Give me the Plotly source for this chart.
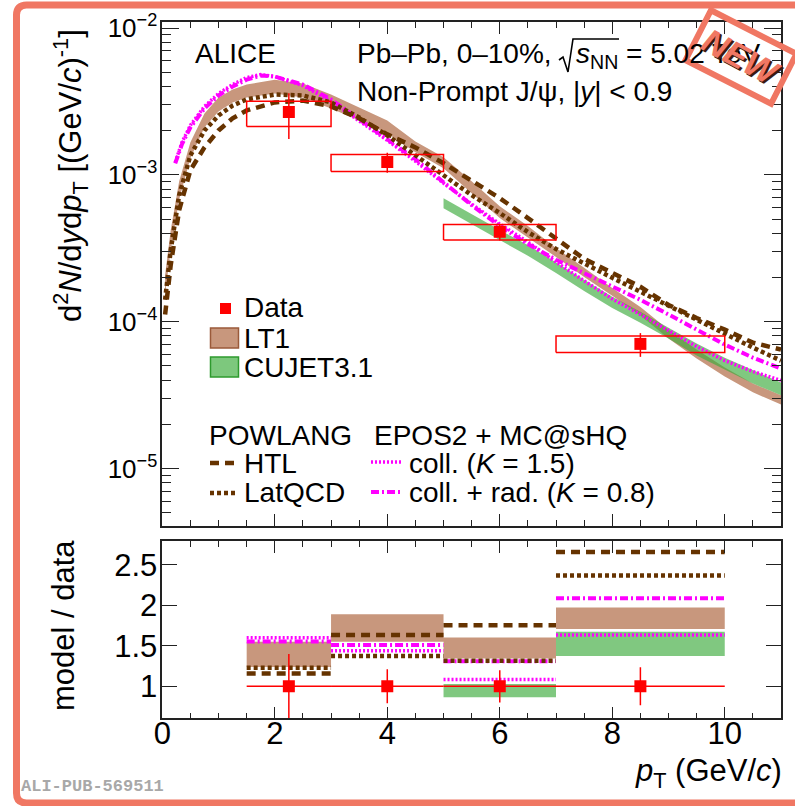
import math
import plotly.graph_objects as go

W, H = 795, 806


def px(x):
    return x / W


def py(y):
    return 1 - y / H


# ---------------- data: top panel ----------------
data_pt = [2.25, 4.0, 6.0, 8.5]
data_val = [2.68e-3, 1.225e-3, 4.1e-4, 7.06e-5]
data_stat = [0.92e-3, 0.19e-3, 0.52e-4, 1.3e-5]
bin_lo = [1.5, 3.0, 5.0, 7.0]
bin_hi = [3.0, 5.0, 7.0, 10.0]
sys_lo = [2.14e-3, 1.055e-3, 3.6e-4, 6.17e-5]
sys_hi = [3.18e-3, 1.38e-3, 4.6e-4, 8.0e-5]

pt_grid = [0.05, 0.15, 0.3, 0.5, 0.75, 1.0, 1.25, 1.5, 2.0, 2.5, 3.0, 3.5, 4.0, 4.5,
           5.0, 5.5, 6.0, 6.5, 7.0, 7.5, 8.0, 8.5, 9.0, 9.5, 10.0, 10.5, 11.0]
lt1_hi = [2.08e-4, 4.21e-4, 9.06e-4, 1.67e-3, 2.62e-3, 3.37e-3, 3.82e-3, 4.13e-3, 4.46e-3,
          4.19e-3, 3.53e-3, 2.88e-3, 2.35e-3, 1.69e-3, 1.32e-3, 9.06e-4, 6.13e-4, 4.48e-4,
          3.18e-4, 2.33e-4, 1.70e-4, 1.26e-4, 8.83e-5, 6.46e-5, 4.87e-5, 3.79e-5, 3.15e-5]
lt1_lo = [1.53e-4, 3.08e-4, 6.84e-4, 1.30e-3, 2.11e-3, 2.71e-3, 3.12e-3, 3.37e-3, 3.59e-3,
          3.37e-3, 2.84e-3, 2.35e-3, 1.92e-3, 1.43e-3, 1.11e-3, 7.51e-4, 5.08e-4, 3.72e-4,
          2.76e-4, 2.02e-4, 1.50e-4, 1.10e-4, 7.67e-5, 5.61e-5, 4.23e-5, 3.30e-5, 2.73e-5]
htl = [1.12e-4, 2.44e-4, 5.76e-4, 1.08e-3, 1.54e-3, 2.01e-3, 2.43e-3, 2.75e-3, 3.12e-3,
       3.21e-3, 2.93e-3, 2.43e-3, 1.89e-3, 1.54e-3, 1.20e-3, 9.20e-4, 6.95e-4, 5.08e-4,
       3.72e-4, 2.68e-4, 2.15e-4, 1.73e-4, 1.30e-4, 1.06e-4, 8.83e-5, 7.20e-5, 6.46e-5]
latqcd = [1.41e-4, 3.08e-4, 7.28e-4, 1.36e-3, 2.01e-3, 2.54e-3, 2.97e-3, 3.27e-3, 3.53e-3,
          3.48e-3, 3.12e-3, 2.46e-3, 1.86e-3, 1.36e-3, 9.95e-4, 7.28e-4, 5.50e-4, 4.08e-4,
          3.13e-4, 2.48e-4, 1.99e-4, 1.60e-4, 1.28e-4, 1.03e-4, 8.29e-5, 6.66e-5, 5.43e-5]

epos_pt = [0.23, 0.35, 0.5, 0.75, 1.0, 1.25, 1.5, 1.75, 2.0, 2.5, 3.0, 3.5, 4.0, 4.5,
           5.0, 5.5, 6.0, 6.5, 7.0, 7.5, 8.0, 8.5, 9.0, 9.5, 10.0, 10.5, 11.0]
coll = [1.22e-3, 1.67e-3, 2.18e-3, 2.93e-3, 3.59e-3, 4.13e-3, 4.61e-3, 4.83e-3, 4.68e-3,
        4.06e-3, 3.17e-3, 2.35e-3, 1.72e-3, 1.24e-3, 8.78e-4, 6.33e-4, 4.63e-4, 3.49e-4,
        2.55e-4, 1.90e-4, 1.43e-4, 1.12e-4, 8.69e-5, 6.77e-5, 5.43e-5, 4.58e-5, 3.98e-5]
coll_rad = [1.20e-3, 1.62e-3, 2.11e-3, 2.84e-3, 3.48e-3, 4.00e-3, 4.46e-3, 4.75e-3, 4.68e-3,
            4.13e-3, 3.27e-3, 2.39e-3, 1.78e-3, 1.28e-3, 8.92e-4, 6.23e-4, 4.48e-4, 3.38e-4,
            2.64e-4, 2.15e-4, 1.73e-4, 1.41e-4, 1.12e-4, 8.83e-5, 6.98e-5, 5.69e-5, 4.80e-5]

cujet_pt = [5.0, 5.5, 6.0, 6.5, 7.0, 7.5, 8.0, 8.5, 9.0, 9.5, 10.0, 10.5, 11.0]
cujet_hi = [6.95e-4, 5.41e-4, 4.21e-4, 3.33e-4, 2.52e-4, 1.93e-4, 1.48e-4, 1.17e-4,
            9.11e-5, 7.09e-5, 5.69e-5, 4.65e-5, 3.85e-5]
cujet_lo = [5.94e-4, 4.63e-4, 3.60e-4, 2.81e-4, 2.15e-4, 1.62e-4, 1.24e-4, 9.84e-5,
            7.67e-5, 5.88e-5, 4.72e-5, 3.79e-5, 3.15e-5]

# ---------------- data: ratio panel ----------------
ratio_data = [1.0, 1.0, 1.0, 1.0]
ratio_err = [0.4, 0.21, 0.2, 0.235]
ratio_lt1_lo = [1.24, 1.55, 1.345, 1.71]
ratio_lt1_hi = [1.55, 1.89, 1.605, 1.975]
cujet_bin_lo = [5.0, 7.0]
cujet_bin_hi = [7.0, 10.0]
ratio_cujet_lo = [0.865, 1.375]
ratio_cujet_hi = [1.03, 1.675]
ratio_htl = [1.16, 1.635, 1.755, 2.66]
ratio_latqcd = [1.23, 1.375, 1.315, 2.37]
ratio_coll = [1.60, 1.44, 1.085, 1.635]
ratio_collrad = [1.555, 1.51, 1.31, 2.09]

x_ticks = [0, 2, 4, 6, 8, 10]
ratio_ticks = [1, 1.5, 2, 2.5]
ratio_ticktext = ["1", "1.5", "2", "2.5"]
log_ticks = [1e-5, 1e-4, 1e-3, 1e-2]
log_ticktext = ["10<sup>\u22125</sup>", "10<sup>\u22124</sup>", "10<sup>\u22123</sup>", "10<sup>\u22122</sup>"]

# ---------------- styles ----------------
BROWN = "#663300"
MAG = "#FF00FF"
LT1_FILL = "#C8977D"
CUJET_FILL = "rgba(60,170,60,0.65)"
RED = "#FF0000"
ORANGE = "#F07763"
HTL_DASH = "9px,6px"
LAT_DASH = "4px,3px"
COLL_DASH = "2px,2px"
CR_DASH = "8px,3px,2px,3px"

fig = go.Figure()

# ---- top panel ----
fig.add_trace(go.Scatter(x=pt_grid + pt_grid[::-1], y=lt1_hi + lt1_lo[::-1], fill="toself",
                         fillcolor=LT1_FILL, line=dict(width=0), mode="lines",
                         xaxis="x2", yaxis="y2", hoverinfo="skip"))
fig.add_trace(go.Scatter(x=cujet_pt + cujet_pt[::-1], y=cujet_hi + cujet_lo[::-1], fill="toself",
                         fillcolor=CUJET_FILL, line=dict(width=0), mode="lines",
                         xaxis="x2", yaxis="y2", hoverinfo="skip"))
fig.add_trace(go.Scatter(x=epos_pt, y=coll, mode="lines", line=dict(color=MAG, width=3.5, dash=COLL_DASH),
                         xaxis="x2", yaxis="y2"))
fig.add_trace(go.Scatter(x=epos_pt, y=coll_rad, mode="lines", line=dict(color=MAG, width=4, dash=CR_DASH),
                         xaxis="x2", yaxis="y2"))
fig.add_trace(go.Scatter(x=pt_grid, y=latqcd, mode="lines", line=dict(color=BROWN, width=4.5, dash=LAT_DASH),
                         xaxis="x2", yaxis="y2"))
fig.add_trace(go.Scatter(x=pt_grid, y=htl, mode="lines", line=dict(color=BROWN, width=4.5, dash=HTL_DASH),
                         xaxis="x2", yaxis="y2"))

bx, by = [], []
for lo, hi, slo, shi in zip(bin_lo, bin_hi, sys_lo, sys_hi):
    bx += [lo, hi, hi, lo, lo, None]
    by += [slo, slo, shi, shi, slo, None]
fig.add_trace(go.Scatter(x=bx, y=by, mode="lines", line=dict(color=RED, width=1.5),
                         xaxis="x2", yaxis="y2"))
fig.add_trace(go.Scatter(x=data_pt, y=data_val, mode="markers",
                         marker=dict(symbol="square", size=12, color=RED),
                         error_y=dict(type="data", array=data_stat, color=RED, thickness=1.5, width=0),
                         xaxis="x2", yaxis="y2"))


# ---- ratio panel ----
def segs(los, his, vals):
    xs, ys = [], []
    for lo, hi, v in zip(los, his, vals):
        xs += [lo, hi, None]
        ys += [v, v, None]
    return xs, ys


def rects(los, his, ylo, yhi):
    xs, ys = [], []
    for lo, hi, a, b in zip(los, his, ylo, yhi):
        xs += [lo, hi, hi, lo, lo, None]
        ys += [a, a, b, b, a, None]
    return xs, ys


rx, ry = rects(bin_lo, bin_hi, ratio_lt1_lo, ratio_lt1_hi)
fig.add_trace(go.Scatter(x=rx, y=ry, fill="toself", fillcolor=LT1_FILL, line=dict(width=0), mode="lines"))
rx, ry = rects(cujet_bin_lo, cujet_bin_hi, ratio_cujet_lo, ratio_cujet_hi)
fig.add_trace(go.Scatter(x=rx, y=ry, fill="toself", fillcolor=CUJET_FILL, line=dict(width=0), mode="lines"))

for vals, col, wdt, dsh in [(ratio_coll, MAG, 3.5, COLL_DASH), (ratio_collrad, MAG, 4, CR_DASH),
                            (ratio_latqcd, BROWN, 4.5, LAT_DASH), (ratio_htl, BROWN, 4.5, HTL_DASH)]:
    sx, sy = segs(bin_lo, bin_hi, vals)
    fig.add_trace(go.Scatter(x=sx, y=sy, mode="lines", line=dict(color=col, width=wdt, dash=dsh)))

fig.add_trace(go.Scatter(
    x=data_pt, y=ratio_data, mode="markers",
    marker=dict(symbol="square", size=12, color=RED),
    error_y=dict(type="data", array=ratio_err, color=RED, thickness=1.5, width=0),
    error_x=dict(type="data", symmetric=False,
                 array=[h - p for h, p in zip(bin_hi, data_pt)],
                 arrayminus=[p - l for p, l in zip(data_pt, bin_lo)],
                 color=RED, thickness=1.5, width=0)))

# ---------------- axes ----------------
X0, X1 = px(162.3), px(781)
common = dict(showline=True, linecolor="#222", linewidth=1.6, mirror="ticks", ticks="inside",
              tickcolor="#222", tickwidth=1.3, zeroline=False, showgrid=False, automargin=False)
minor_log = [k * 10.0 ** e for e in range(-6, -1) for k in range(2, 10)]

fig.update_layout(
    width=W, height=H, margin=dict(l=0, r=0, t=0, b=0, autoexpand=False),
    paper_bgcolor="white", plot_bgcolor="white", showlegend=False,
    font=dict(family="Liberation Sans, Arial, sans-serif", size=28, color="black"),
    xaxis=dict(domain=[X0, X1], anchor="y", range=[0, 11], tickmode="array", tickvals=x_ticks,
               ticklen=12, tickfont=dict(size=31), ticklabelstandoff=-13,
               minor=dict(dtick=0.5, ticklen=6, ticks="inside", tickcolor="#222", tickwidth=1.2),
               **common),
    yaxis=dict(domain=[py(718.3), py(540.7)], anchor="x", range=[0.605, 2.8], tickmode="array",
               tickvals=ratio_ticks, ticktext=ratio_ticktext, ticklen=15, tickfont=dict(size=31),
               ticklabelstandoff=-3, **common),
    xaxis2=dict(domain=[X0, X1], anchor="y2", range=[0, 11], matches="x", tickmode="array",
                tickvals=x_ticks, showticklabels=False, ticklen=12,
                minor=dict(dtick=0.5, ticklen=6, ticks="inside", tickcolor="#222", tickwidth=1.2),
                **common),
    yaxis2=dict(domain=[py(525.7), py(22.3)], anchor="x2", type="log", range=[-5.39, -1.96],
                tickmode="array", tickvals=log_ticks, ticktext=log_ticktext, ticklen=17,
                tickfont=dict(size=26), ticklabelstandoff=-2,
                minor=dict(tickmode="array", tickvals=minor_log, ticklen=9, ticks="inside",
                           tickcolor="#222", tickwidth=1.2),
                **common),
)

# ---------------- texts ----------------
ann = []


def text(x, y, s, size=28, anchor="left", yanchor="middle", angle=0, color="black", family=None):
    d = dict(x=px(x), y=py(y), xref="paper", yref="paper", text=s, showarrow=False,
             xanchor=anchor, yanchor=yanchor, textangle=angle, font=dict(size=size, color=color),
             borderpad=0)
    if family:
        d["font"]["family"] = family
    ann.append(d)


text(194, 53, "ALICE")
text(356, 53, "Pb\u2013Pb, 0\u201310%,")
text(575, 55, "<i>s</i><sub>NN</sub> = 5.02 TeV")
text(356, 91, "Non-Prompt J/\u03c8, |<i>y</i>| &lt; 0.9")
text(70, 176, "d<sup>2</sup><i>N</i>/d<i>y</i>d<i>p</i><sub>T</sub> [(GeV/<i>c</i>)<sup>-1</sup>]",
     size=31, anchor="center", angle=-90)
text(63, 626, "model / data", size=31, anchor="center", angle=-90)
text(783, 773, "<i>p</i><sub>T</sub> (GeV/<i>c</i>)", size=31, anchor="right")
text(243, 307, "Data")
text(243, 338, "LT1")
text(243, 367, "CUJET3.1")
text(208, 435, "POWLANG")
text(373, 435, "EPOS2 + MC@sHQ")
text(243, 463, "HTL")
text(243, 492, "LatQCD")
text(408, 463, "coll. (<i>K</i> = 1.5)")
text(408, 492, "coll. + rad. (<i>K</i> = 0.8)")
text(20, 786, "<b>ALI-PUB-569511</b>", size=17, color="#A8A8A8", family="Liberation Mono, monospace")
# NEW stamp text (shadow + text)
text(743, 59, "<b><i>NEW</i></b>", size=34, anchor="center", angle=28, color="#3a1a12")
text(741, 57, "<b><i>NEW</i></b>", size=34, anchor="center", angle=28, color=ORANGE)

# ---------------- shapes (legend symbols, frame decorations) ----------------
shapes = []


def rect(x0, y0, x1, y1, fill, line, lw=1.5):
    shapes.append(dict(type="rect", xref="paper", yref="paper", x0=px(x0), x1=px(x1), y0=py(y1), y1=py(y0),
                       fillcolor=fill, line=dict(color=line, width=lw)))


def hline(x0, x1, y, col, w, dash):
    shapes.append(dict(type="line", xref="paper", yref="paper", x0=px(x0), x1=px(x1), y0=py(y), y1=py(y),
                       line=dict(color=col, width=w, dash=dash)))


def P(x, y):
    return f"{px(x):.5f},{py(y):.5f}"


rect(220, 303, 231, 314, RED, RED, 0)
rect(210.5, 328, 238.5, 348, LT1_FILL, "#9A5A3A")
rect(210.5, 357, 238.5, 377, "#7DC87D", "#2E9A2E")
hline(210, 238, 463, BROWN, 4.5, HTL_DASH)
hline(210, 238, 493, BROWN, 4.5, LAT_DASH)
hline(371, 403, 462, MAG, 3.5, COLL_DASH)
hline(371, 403, 492, MAG, 4, CR_DASH)

# square-root sign with overline
shapes.append(dict(type="path", xref="paper", yref="paper",
                   path=f"M {P(559, 60)} L {P(563, 57)} L {P(568, 72)} L {P(573, 39)} L {P(619, 39)}",
                   line=dict(color="black", width=1.6)))

# outer rounded border
r = 10
bx0, by0, bx1, by1 = 16.5, 5, 860, 803
border = (f"M {P(bx0, by0 + r)} Q {P(bx0, by0)} {P(bx0 + r, by0)} L {P(bx1, by0)} L {P(bx1, by1)} "
          f"L {P(bx0 + r, by1)} Q {P(bx0, by1)} {P(bx0, by1 - r)} Z")
shapes.append(dict(type="path", xref="paper", yref="paper", path=border, line=dict(color=ORANGE, width=7)))

# NEW stamp rotated rectangle
cx, cy, hw, hh, ang = 741, 57, 48, 28, math.radians(27)
ux, uy = math.cos(ang), math.sin(ang)
vx, vy = -math.sin(ang), math.cos(ang)
corners = [(cx - hw * ux - hh * vx, cy - hw * uy - hh * vy),
           (cx + hw * ux - hh * vx, cy + hw * uy - hh * vy),
           (cx + hw * ux + hh * vx, cy + hw * uy + hh * vy),
           (cx - hw * ux + hh * vx, cy - hw * uy + hh * vy)]
stamp = "M " + " L ".join(P(a, b) for a, b in corners) + " Z"
shapes.append(dict(type="path", xref="paper", yref="paper", path=stamp, line=dict(color=ORANGE, width=6)))

fig.update_layout(annotations=ann, shapes=shapes)
fig.write_html("out.html")
